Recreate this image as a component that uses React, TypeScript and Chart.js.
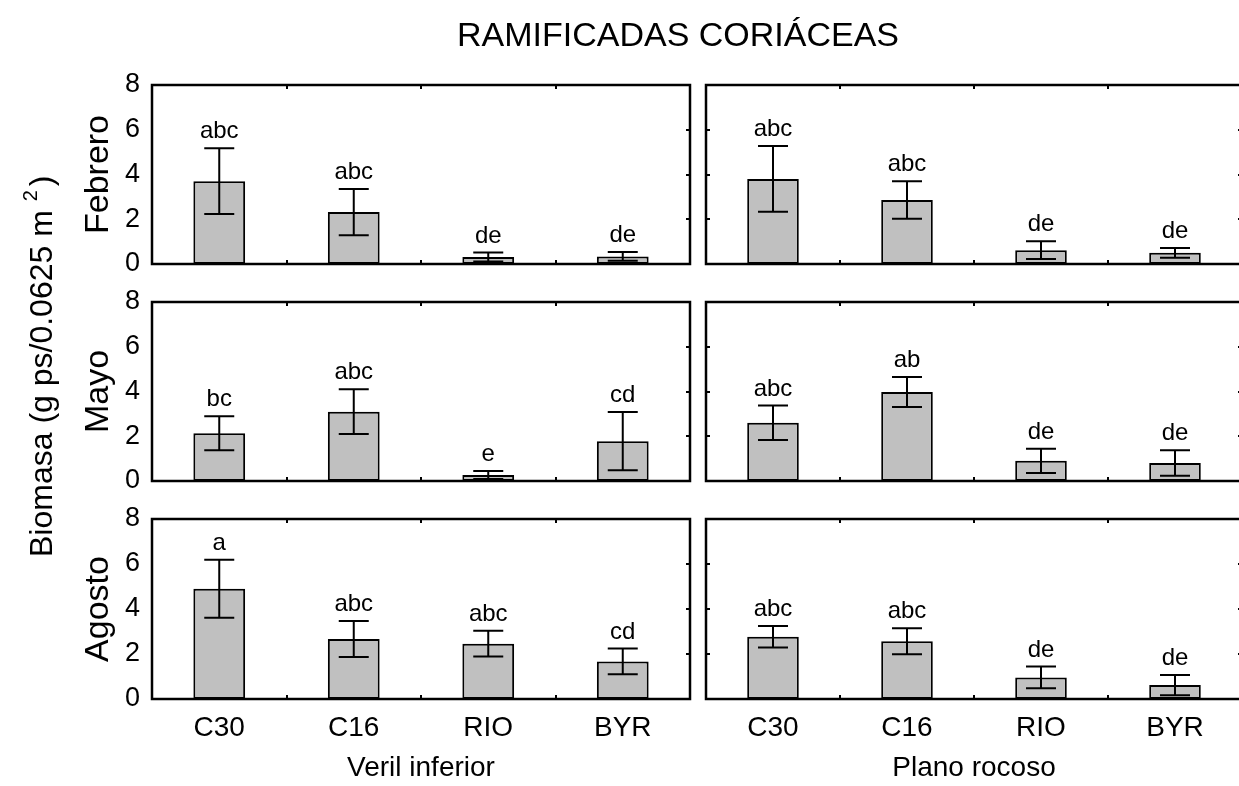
import React, { useEffect, useRef } from 'react';
import { Chart, registerables } from 'chart.js';

Chart.register(...registerables);

// ---------- data ----------
const categories = ['C30', 'C16', 'RIO', 'BYR'];
const sites = ['Veril inferior', 'Plano rocoso'];
const months = ['Febrero', 'Mayo', 'Agosto'];
const yTicks = [0, 2, 4, 6, 8];
const chartTitle = 'RAMIFICADAS CORIÁCEAS';
const yAxisTitle = 'Biomasa (g ps/0.0625 m ';
const yAxisSup = '2';
const yAxisClose = ')';

// Veril inferior
const verilFebMean = [3.7, 2.32, 0.31, 0.34];
const verilFebErr = [1.47, 1.03, 0.2, 0.2];
const verilFebLetters = ['abc', 'abc', 'de', 'de'];
const verilMayMean = [2.13, 3.1, 0.27, 1.78];
const verilMayErr = [0.76, 1.0, 0.18, 1.3];
const verilMayLetters = ['bc', 'abc', 'e', 'cd'];
const verilAgoMean = [4.9, 2.67, 2.46, 1.67];
const verilAgoErr = [1.29, 0.8, 0.57, 0.57];
const verilAgoLetters = ['a', 'abc', 'abc', 'cd'];

// Plano rocoso
const rocosoFebMean = [3.8, 2.86, 0.62, 0.5];
const rocosoFebErr = [1.47, 0.84, 0.4, 0.22];
const rocosoFebLetters = ['abc', 'abc', 'de', 'de'];
const rocosoMayMean = [2.6, 3.98, 0.9, 0.8];
const rocosoMayErr = [0.77, 0.67, 0.54, 0.57];
const rocosoMayLetters = ['abc', 'ab', 'de', 'de'];
const rocosoAgoMean = [2.77, 2.57, 0.96, 0.62];
const rocosoAgoErr = [0.48, 0.58, 0.48, 0.45];
const rocosoAgoLetters = ['abc', 'abc', 'de', 'de'];

const means = [
  [verilFebMean, rocosoFebMean],
  [verilMayMean, rocosoMayMean],
  [verilAgoMean, rocosoAgoMean],
];
const errs = [
  [verilFebErr, rocosoFebErr],
  [verilMayErr, rocosoMayErr],
  [verilAgoErr, rocosoAgoErr],
];
const letters = [
  [verilFebLetters, rocosoFebLetters],
  [verilMayLetters, rocosoMayLetters],
  [verilAgoLetters, rocosoAgoLetters],
];

// ---------- layout ----------
const FONT = '"Liberation Sans", Arial, Helvetica, sans-serif';
const W = 1250;
const H = 786;
const colX = [
  [152, 690],
  [706, 1242],
];
const rowY = [
  [85, 264],
  [302, 481],
  [519, 699],
];

function makePanelPlugin(row: number, col: number) {
  const mean = means[row][col];
  const err = errs[row][col];
  const lets = letters[row][col];
  return {
    id: 'panelDeco',
    afterDatasetsDraw(chart: any) {
      const ctx = chart.ctx as CanvasRenderingContext2D;
      const xs = chart.scales.x;
      const ys = chart.scales.y;
      ctx.save();
      ctx.strokeStyle = '#000';
      ctx.fillStyle = '#000';
      ctx.lineWidth = 2;
      const cap = 15;
      mean.forEach((m, i) => {
        const x = xs.getPixelForValue(i);
        const hi = ys.getPixelForValue(m + err[i]);
        const lo = ys.getPixelForValue(Math.max(m - err[i], 0.05));
        ctx.beginPath();
        ctx.moveTo(x, hi);
        ctx.lineTo(x, lo);
        ctx.moveTo(x - cap, hi);
        ctx.lineTo(x + cap, hi);
        ctx.moveTo(x - cap, lo);
        ctx.lineTo(x + cap, lo);
        ctx.stroke();
        ctx.font = `24px ${FONT}`;
        ctx.textAlign = 'center';
        ctx.textBaseline = 'alphabetic';
        ctx.fillText(lets[i], x, hi - 10);
      });
      ctx.restore();
    },
    afterDraw(chart: any) {
      const ctx = chart.ctx as CanvasRenderingContext2D;
      const { left, right, top, bottom } = chart.chartArea;
      const xs = chart.scales.x;
      const ys = chart.scales.y;
      ctx.save();
      ctx.strokeStyle = '#000';
      ctx.lineWidth = 2.5;
      ctx.strokeRect(left, top, right - left, bottom - top);
      ctx.lineWidth = 2;
      ctx.beginPath();
      for (let k = 1; k < categories.length; k++) {
        const x = Math.round((xs.getPixelForValue(k - 1) + xs.getPixelForValue(k)) / 2);
        ctx.moveTo(x, top);
        ctx.lineTo(x, top + 4);
        ctx.moveTo(x, bottom);
        ctx.lineTo(x, bottom - 4);
      }
      yTicks.slice(1, -1).forEach((v) => {
        const y = Math.round(ys.getPixelForValue(v));
        if (col === 0) {
          ctx.moveTo(right, y);
          ctx.lineTo(right - 4, y);
        } else {
          ctx.moveTo(left, y);
          ctx.lineTo(left + 4, y);
          ctx.moveTo(right, y);
          ctx.lineTo(right - 4, y);
        }
      });
      ctx.stroke();

      if (row === 0 && col === 0) {
        ctx.fillStyle = '#000';
        ctx.font = `34px ${FONT}`;
        ctx.textAlign = 'center';
        ctx.textBaseline = 'alphabetic';
        ctx.fillText(chartTitle, 678, 46);

        ctx.translate(52, 557);
        ctx.rotate(-Math.PI / 2);
        ctx.textAlign = 'left';
        ctx.font = `32px ${FONT}`;
        ctx.fillText(yAxisTitle, 0, 0);
        let pos = ctx.measureText(yAxisTitle).width;
        ctx.font = `20px ${FONT}`;
        ctx.fillText(yAxisSup, pos, -15);
        pos += ctx.measureText(yAxisSup).width + 4;
        ctx.font = `32px ${FONT}`;
        ctx.fillText(yAxisClose, pos, 0);
      }
      ctx.restore();
    },
  };
}

function Panel({ row, col }: { row: number; col: number }) {
  const ref = useRef<HTMLCanvasElement>(null);
  useEffect(() => {
    const canvas = ref.current!;
    const isLeft = col === 0;
    const isBottom = row === 2;
    const [x0, x1] = colX[col];
    const [y0, y1] = rowY[row];
    const chart = new Chart(canvas, {
      type: 'bar',
      data: {
        labels: categories,
        datasets: [
          {
            data: means[row][col],
            backgroundColor: '#c0c0c0',
            borderColor: '#000',
            borderWidth: 2,
            borderSkipped: false,
            barPercentage: 0.385,
            categoryPercentage: 1,
          },
        ],
      },
      options: {
        responsive: false,
        animation: false,
        events: [],
        layout: {
          padding: {
            left: isLeft ? 0 : x0,
            right: W - x1,
            top: y0,
            bottom: isBottom ? 0 : H - y1,
          },
        },
        plugins: {
          legend: { display: false },
          tooltip: { enabled: false },
          title: { display: false },
        },
        scales: {
          x: {
            display: isBottom,
            offset: true,
            grid: { display: false, drawTicks: false },
            border: { display: false },
            ticks: {
              display: isBottom,
              color: '#000',
              font: { family: FONT, size: 28 },
              padding: 12,
              maxRotation: 0,
              autoSkip: false,
            },
            title: {
              display: isBottom,
              text: sites[col],
              color: '#000',
              font: { family: FONT, size: 28 },
              padding: { top: 0, bottom: 1 },
            },
            afterFit: (s: any) => {
              s.height = isBottom ? H - y1 : 0;
            },
          },
          y: {
            display: isLeft,
            min: 0,
            max: 8,
            afterBuildTicks: (s: any) => {
              s.ticks = yTicks.map((v) => ({ value: v }));
            },
            grid: { display: false, drawTicks: false },
            border: { display: false },
            ticks: {
              display: isLeft,
              color: '#000',
              font: { family: FONT, size: 27 },
              padding: 12,
            },
            title: {
              display: isLeft,
              text: months[row],
              color: '#000',
              font: { family: FONT, size: 34 },
              padding: { top: 78, bottom: 0 },
            },
            afterFit: (s: any) => {
              s.width = isLeft ? x0 : 0;
            },
          },
        },
      } as any,
      plugins: [makePanelPlugin(row, col)],
    });
    return () => chart.destroy();
  }, [row, col]);
  return (
    <canvas
      ref={ref}
      width={W}
      height={H}
      style={{ position: 'absolute', left: 0, top: 0, width: W, height: H }}
    />
  );
}

export default function App() {
  const panels: React.ReactNode[] = [];
  for (let r = 0; r < 3; r++) {
    for (let c = 0; c < 2; c++) {
      panels.push(<Panel key={`${r}-${c}`} row={r} col={c} />);
    }
  }
  return (
    <div
      style={{
        position: 'fixed',
        left: 0,
        top: 0,
        width: 1239,
        height: 786,
        overflow: 'hidden',
        background: '#fff',
      }}
    >
      {panels}
    </div>
  );
}
